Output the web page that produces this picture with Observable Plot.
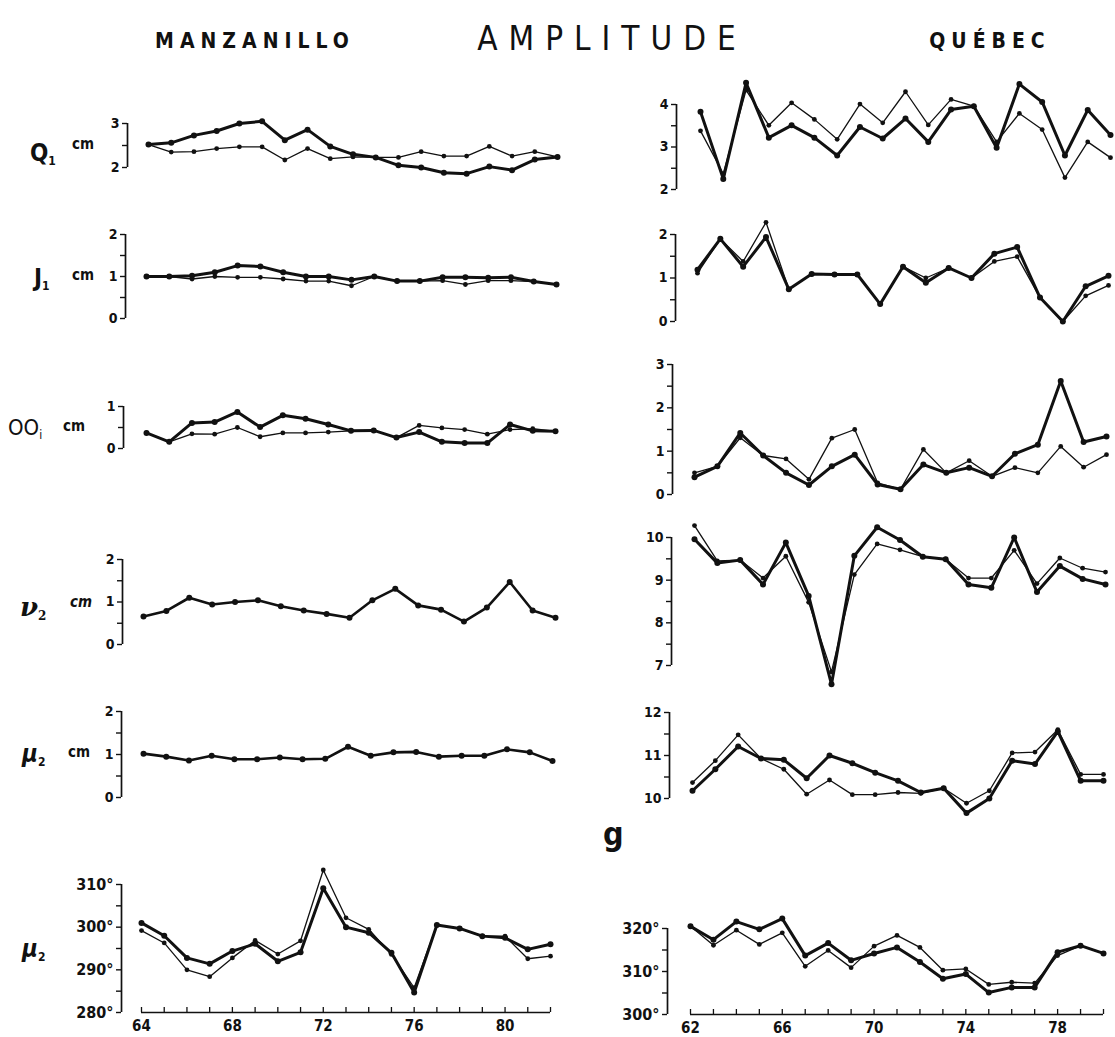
<!DOCTYPE html>
<html><head><meta charset="utf-8">
<script src="https://cdn.jsdelivr.net/npm/d3@7"></script>
<script src="https://cdn.jsdelivr.net/npm/@observablehq/plot@0.6"></script>
<style>
body{margin:0;background:#fff;}
#root{position:relative;width:1115px;height:1037px;overflow:hidden;background:#fff;color:#111;
 font-family:"DejaVu Sans Condensed","Liberation Sans Narrow","Liberation Sans",Arial,sans-serif;}
.abs{position:absolute;white-space:nowrap;line-height:1;}
.pnl{position:absolute;}
</style></head><body><div id="root"></div>
<script>
// ---------- data ----------
const yearsM = [64,65,66,67,68,69,70,71,72,73,74,75,76,77,78,79,80,81,82];
const yearsQ = [62,63,64,65,66,67,68,69,70,71,72,73,74,75,76,77,78,79,80];
const yearLabelsM = [64,68,72,76,80];
const yearLabelsQ = [62,66,70,74,78];

// Manzanillo
const q1M_thick = [2.52,2.56,2.73,2.83,3.0,3.05,2.62,2.86,2.48,2.3,2.23,2.05,2.0,1.88,1.86,2.02,1.94,2.18,2.24];
const q1M_thin  = [2.52,2.35,2.36,2.43,2.47,2.47,2.17,2.43,2.2,2.24,2.23,2.23,2.36,2.26,2.26,2.48,2.26,2.36,2.24];
const j1M_thick = [1.0,1.0,1.02,1.1,1.26,1.24,1.1,1.0,1.0,0.92,1.0,0.89,0.89,0.98,0.98,0.97,0.98,0.88,0.81];
const j1M_thin  = [1.0,1.0,0.94,1.0,0.98,0.98,0.94,0.89,0.89,0.78,1.0,0.89,0.89,0.9,0.81,0.9,0.9,0.88,0.81];
const oo1M_thick = [0.37,0.16,0.61,0.63,0.87,0.51,0.79,0.71,0.57,0.42,0.43,0.26,0.39,0.16,0.13,0.13,0.57,0.42,0.41];
const oo1M_thin  = [0.37,0.16,0.35,0.34,0.5,0.28,0.37,0.37,0.39,0.42,0.43,0.26,0.55,0.49,0.45,0.34,0.45,0.47,0.41];
const nu2M = [0.66,0.79,1.1,0.94,1.0,1.04,0.9,0.8,0.72,0.63,1.04,1.31,0.92,0.82,0.54,0.87,1.47,0.8,0.63];
const mu2M = [1.02,0.95,0.86,0.97,0.89,0.89,0.93,0.89,0.9,1.18,0.97,1.05,1.06,0.95,0.97,0.97,1.12,1.05,0.85];
const phM_thick = [301.0,298.0,292.8,291.4,294.4,296.1,292.0,294.1,309.1,300.0,298.7,294.0,284.7,300.5,299.7,297.9,297.5,294.8,296.0];
const phM_thin  = [299.2,296.3,290.0,288.4,292.8,296.9,293.7,296.8,313.4,302.2,299.5,293.6,285.8,300.5,299.7,297.9,297.9,292.6,293.2];

// Québec
const q1Q_thick = [3.83,2.25,4.51,3.22,3.51,3.22,2.8,3.47,3.2,3.67,3.12,3.88,3.96,2.98,4.48,4.06,2.8,3.87,3.28];
const q1Q_thin  = [3.38,2.37,4.34,3.51,4.04,3.65,3.18,4.01,3.57,4.3,3.52,4.12,3.96,3.12,3.79,3.41,2.28,3.12,2.75];
const j1Q_thick = [1.19,1.9,1.26,1.94,0.74,1.09,1.08,1.08,0.4,1.26,0.89,1.23,1.0,1.56,1.71,0.55,0.0,0.81,1.05];
const j1Q_thin  = [1.11,1.9,1.38,2.28,0.74,1.09,1.08,1.08,0.4,1.26,1.0,1.23,1.0,1.38,1.49,0.55,0.0,0.59,0.83];
const oo1Q_thick = [0.4,0.65,1.42,0.9,0.5,0.22,0.65,0.92,0.23,0.12,0.69,0.5,0.62,0.42,0.94,1.15,2.62,1.21,1.34];
const oo1Q_thin  = [0.5,0.65,1.31,0.9,0.82,0.35,1.3,1.5,0.27,0.12,1.04,0.5,0.78,0.42,0.62,0.5,1.11,0.63,0.92];
const nu2Q_thick = [9.96,9.4,9.47,8.9,9.88,8.63,6.56,9.57,10.24,9.94,9.55,9.49,8.9,8.82,10.0,8.72,9.33,9.03,8.9];
const nu2Q_thin  = [10.28,9.45,9.47,9.05,9.56,8.48,6.85,9.13,9.85,9.71,9.55,9.49,9.05,9.05,9.7,8.92,9.52,9.28,9.19];
const mu2Q_thick = [10.18,10.68,11.21,10.93,10.9,10.47,11.0,10.82,10.6,10.41,10.14,10.24,9.66,10.0,10.88,10.8,11.56,10.41,10.41];
const mu2Q_thin  = [10.37,10.88,11.48,10.93,10.68,10.1,10.43,10.09,10.09,10.14,10.12,10.24,9.89,10.18,11.06,11.08,11.6,10.56,10.56];
const phQ_thick = [320.5,317.4,321.6,319.8,322.3,313.7,316.6,312.6,314.2,315.6,312.2,308.3,309.4,305.1,306.3,306.3,314.5,316.0,314.2];
const phQ_thin  = [320.5,316.1,319.6,316.3,319.0,311.2,314.9,310.9,315.9,318.4,315.6,310.3,310.6,307.0,307.5,307.3,313.7,316.0,314.2];

// axis ticks
const ticksQ1M = [2,2.5,3],            labelsQ1M = [2,3];
const ticks0to2 = [0,0.5,1,1.5,2],     labels0to2 = [0,1,2];
const ticksOO1M = [0,0.5,1],           labelsOO1M = [0,1];
const ticksPhM = [280,285,290,295,300,305,310], labelsPhM = [280,290,300,310];
const ticksQ1Q = [2,2.5,3,3.5,4],      labelsQ1Q = [2,3,4];
const ticksOO1Q = [0,0.5,1,1.5,2,2.5,3], labelsOO1Q = [0,1,2,3];
const ticksNu2Q = [7,7.5,8,8.5,9,9.5,10], labelsNu2Q = [7,8,9,10];
const ticksMu2Q = [10,10.5,11,11.5,12], labelsMu2Q = [10,11,12];
const ticksPhQ = [300,305,310,315,320], labelsPhQ = [300,310,320];

// ---------- layout ----------
const FONT = '"DejaVu Sans Condensed","Liberation Sans Narrow","Liberation Sans",Arial,sans-serif';
const root = document.getElementById("root");
function txt(html, x, y, css) {
  const d = document.createElement("div");
  d.className = "abs";
  d.innerHTML = html;
  d.style.cssText += `left:${x}px;top:${y}px;` + (css || "");
  root.appendChild(d);
  return d;
}
// titles
txt("MANZANILLO", 255, 31, "transform:translateX(-50%);font-size:21px;font-weight:bold;letter-spacing:6px;");
txt("AMPLITUDE", 612, 22, "transform:translateX(-50%);font-size:33px;letter-spacing:11px;");
txt("QUÉBEC", 990, 31, "transform:translateX(-50%);font-size:21px;font-weight:bold;letter-spacing:6px;");
txt("g", 603, 818, "font-size:32px;font-weight:bold;");

// row labels
const sub = s => `<span style="font-size:12px;vertical-align:-4px;">${s}</span>`;
txt("Q" + sub("1"), 30, 141, "font-size:24px;font-weight:bold;");
txt("cm", 72, 137, "font-size:15px;font-weight:bold;");
txt("J" + sub("1"), 34, 266, "font-size:24px;font-weight:bold;");
txt("cm", 72, 268, "font-size:15px;font-weight:bold;");
txt("OO" + sub("i"), 8, 417, "font-size:22px;");
txt("cm", 63, 419, "font-size:15px;font-weight:bold;");
txt("<i>ν</i>" + sub("2"), 20, 594, "font-size:26px;font-weight:bold;font-family:'DejaVu Serif',serif;");
txt("<i>cm</i>", 70, 595, "font-size:15px;font-weight:bold;");
txt("<i>μ</i>" + sub("2"), 22, 742, "font-size:24px;font-weight:bold;");
txt("cm", 68, 745, "font-size:15px;font-weight:bold;");
txt("<i>μ</i>" + sub("2"), 22, 937, "font-size:24px;font-weight:bold;");

const panels = [
  // Manzanillo
  {left:0, x0:148, x1:557, ax:127, top:123, bottom:167, domain:[2,3], ticks:ticksQ1M, labels:labelsQ1M, years:yearsM, series:[q1M_thick, q1M_thin]},
  {left:0, x0:146, x1:556, ax:125, top:234, bottom:318, domain:[0,2], ticks:ticks0to2, labels:labels0to2, years:yearsM, series:[j1M_thick, j1M_thin]},
  {left:0, x0:146, x1:555, ax:123, top:406, bottom:448, domain:[0,1], ticks:ticksOO1M, labels:labelsOO1M, years:yearsM, series:[oo1M_thick, oo1M_thin]},
  {left:0, x0:143, x1:555, ax:122, top:559, bottom:644, domain:[0,2], ticks:ticks0to2, labels:labels0to2, years:yearsM, series:[nu2M], single:true},
  {left:0, x0:143, x1:552, ax:121, top:711, bottom:797, domain:[0,2], ticks:ticks0to2, labels:labels0to2, years:yearsM, series:[mu2M], single:true},
  {left:0, x0:141, x1:550, ax:121, top:884, bottom:1012, domain:[280,310], ticks:ticksPhM, labels:labelsPhM, years:yearsM, series:[phM_thick, phM_thin], deg:true, xLabels:yearLabelsM},
  // Québec
  {left:560, x0:700, x1:1110, ax:676, top:104, bottom:189, domain:[2,4], ticks:ticksQ1Q, labels:labelsQ1Q, years:yearsQ, series:[q1Q_thick, q1Q_thin]},
  {left:560, x0:697, x1:1108, ax:675, top:234, bottom:321, domain:[0,2], ticks:ticks0to2, labels:labels0to2, years:yearsQ, series:[j1Q_thick, j1Q_thin]},
  {left:560, x0:694, x1:1106, ax:672, top:364, bottom:494, domain:[0,3], ticks:ticksOO1Q, labels:labelsOO1Q, years:yearsQ, series:[oo1Q_thick, oo1Q_thin]},
  {left:560, x0:694, x1:1105, ax:671, top:537, bottom:665, domain:[7,10], ticks:ticksNu2Q, labels:labelsNu2Q, years:yearsQ, series:[nu2Q_thick, nu2Q_thin]},
  {left:560, x0:692, x1:1103, ax:669, top:712, bottom:798, domain:[10,12], ticks:ticksMu2Q, labels:labelsMu2Q, years:yearsQ, series:[mu2Q_thick, mu2Q_thin]},
  {left:560, x0:690, x1:1103, ax:667, top:928, bottom:1014, domain:[300,320], ticks:ticksPhQ, labels:labelsPhQ, years:yearsQ, series:[phQ_thick, phQ_thin], deg:true, xLabels:yearLabelsQ},
];

for (const p of panels) {
  const mt = 30, mb = p.xLabels ? 23 : 30, mr = 8;
  const ml = p.x0 - p.left;
  const W = p.x1 - p.left + mr;
  const H = (p.bottom - p.top) + mt + mb;
  const [lo, hi] = p.domain;
  const dx = p.ax - p.x0;
  const marks = [];
  marks.push(Plot.ruleX([p.years[0]], {y1: lo, y2: hi, dx, strokeWidth: 1.7, stroke: "#111"}));
  marks.push(Plot.axisY(p.ticks, {
    anchor: "left", dx, tickSize: 5, tickPadding: 3, strokeWidth: 1.4, label: null,
    fontSize: p.deg ? 16 : 14, fontWeight: "bold",
    tickFormat: d => p.labels.includes(d) ? (p.deg ? d + "°" : String(d)) : ""
  }));
  p.series.forEach((vals, si) => {
    const data = p.years.map((x, i) => ({x, y: vals[i]}));
    const w = p.single ? 2.6 : (si === 0 ? 3.0 : 1.3);
    marks.push(Plot.line(data, {x: "x", y: "y", stroke: "#111", strokeWidth: w, strokeLinejoin: "round"}));
    marks.push(Plot.dot(data, {x: "x", y: "y", r: si === 0 ? 3 : 2.4, fill: "#111"}));
  });
  if (p.xLabels) {
    // x axis line and upward year ticks (tick length derived from the y scale: 5px)
    const tickLen = (hi - lo) * 5 / (p.bottom - p.top);
    marks.push(Plot.ruleY([lo], {stroke: "#111", strokeWidth: 1.7}));
    marks.push(Plot.ruleX(p.years, {y1: lo, y2: lo + tickLen, stroke: "#111", strokeWidth: 1.3}));
    marks.push(Plot.axisX(p.xLabels, {anchor: "bottom", tickSize: 0, tickPadding: 8, fontSize: 15, fontWeight: "bold", label: null, tickFormat: d => String(d)}));
  }
  const svg = Plot.plot({
    width: W, height: H,
    marginLeft: ml, marginRight: mr, marginTop: mt, marginBottom: mb,
    x: {domain: [p.years[0], p.years[p.years.length - 1]], axis: p.xLabels ? undefined : null, label: null},
    y: {domain: p.domain, label: null},
    style: {fontFamily: FONT, color: "#111", background: "transparent", overflow: "visible"},
    marks
  });
  svg.classList.add("pnl");
  svg.style.left = p.left + "px";
  svg.style.top = (p.top - mt) + "px";
  svg.style.position = "absolute";
  root.appendChild(svg);
}
</script>
</body></html>
